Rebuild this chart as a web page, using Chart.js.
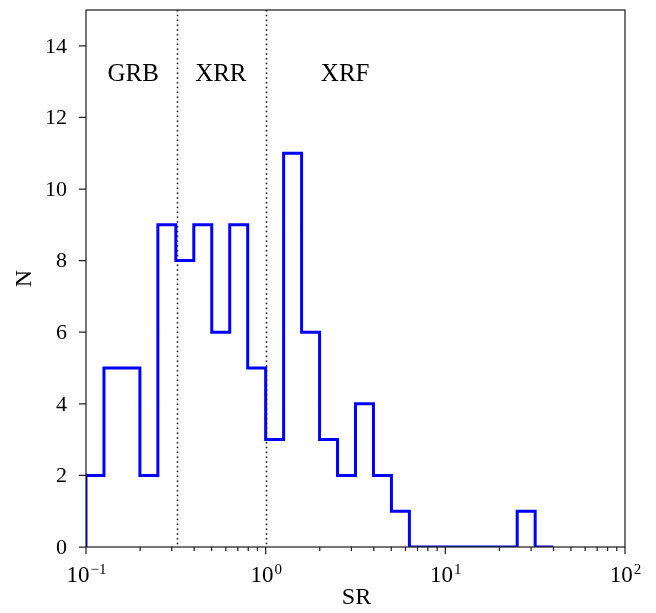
<!DOCTYPE html>
<html lang="en">
<head>
  <meta charset="UTF-8" />
  <title>SR distribution</title>
  <script src="https://cdn.jsdelivr.net/npm/chart.js"></script>
  <style>
    body {
      margin: 0;
      background: #ffffff;
    }
    canvas {
      display: block;
    }
  </style>
</head>
<body>
  <canvas id="srChart" width="656" height="613"></canvas>

  <script>
    // histogram counts, bins of 0.1 dex starting at SR = 0.1
    const binStartLog = -1.0;
    const binWidthLog = 0.1;
    const counts = [2, 5, 5, 2, 9, 8, 9, 6, 9, 5, 3, 11, 6, 3, 2, 4, 2, 1, 0, 0, 0, 0, 0, 0, 1, 0];

    // class boundaries in SR and the class names between them
    const boundaries = [0.32, 1.0];
    const classNames = ["GRB", "XRR", "XRF"];

    const xTickValues = [0.1, 1, 10, 100];
    const xTickExponents = ["\u22121", "0", "1", "2"];
    const yTickValues = [0, 2, 4, 6, 8, 10, 12, 14];

    const FONT = "'Liberation Serif', 'DejaVu Serif', serif";

    // step outline: left edge of each bin carries its count
    const stepPoints = [{ x: Math.pow(10, binStartLog), y: 0 }];
    counts.forEach((c, i) => {
      stepPoints.push({ x: Math.pow(10, binStartLog + binWidthLog * i), y: c });
    });
    stepPoints.push({ x: Math.pow(10, binStartLog + binWidthLog * counts.length), y: 0 });

    const axesDecor = {
      id: "axesDecor",
      beforeDatasetsDraw(chart) {
        const { ctx, chartArea: a, scales: { x, y } } = chart;
        ctx.save();
        // dotted class boundaries
        ctx.strokeStyle = "#000";
        ctx.lineWidth = 1.5;
        ctx.setLineDash([1.5, 3.3]);
        boundaries.forEach(b => {
          const px = Math.round(x.getPixelForValue(b)) + 0.5;
          ctx.beginPath();
          ctx.moveTo(px, a.top);
          ctx.lineTo(px, a.bottom);
          ctx.stroke();
        });
        ctx.setLineDash([]);

        // class names
        const labelX = [0.183, 0.563, 2.77];
        ctx.fillStyle = "#000";
        ctx.font = "25px " + FONT;
        ctx.textAlign = "center";
        ctx.textBaseline = "middle";
        classNames.forEach((name, i) => {
          ctx.fillText(name, x.getPixelForValue(labelX[i]), y.getPixelForValue(13.2));
        });
        ctx.restore();
      },
      afterDraw(chart) {
        const { ctx, chartArea: a, scales: { x, y } } = chart;
        ctx.save();
        ctx.strokeStyle = "#222";
        ctx.lineWidth = 1.25;
        ctx.strokeRect(a.left, a.top, a.right - a.left, a.bottom - a.top);

        // x ticks, major and minor, pointing out
        ctx.beginPath();
        for (let d = -1; d <= 2; d++) {
          const px = x.getPixelForValue(Math.pow(10, d));
          ctx.moveTo(px, a.bottom);
          ctx.lineTo(px, a.bottom + 7);
          if (d < 2) {
            for (let m = 2; m <= 9; m++) {
              const mx = x.getPixelForValue(m * Math.pow(10, d));
              ctx.moveTo(mx, a.bottom);
              ctx.lineTo(mx, a.bottom + 4);
            }
          }
        }
        yTickValues.forEach(v => {
          const py = y.getPixelForValue(v);
          ctx.moveTo(a.left, py);
          ctx.lineTo(a.left - 7, py);
        });
        ctx.stroke();

        // x tick labels 10^n
        ctx.fillStyle = "#000";
        ctx.textBaseline = "alphabetic";
        xTickValues.forEach((v, i) => {
          const px = x.getPixelForValue(v);
          ctx.font = "23px " + FONT;
          const wBase = ctx.measureText("10").width;
          ctx.font = "15px " + FONT;
          const wExp = ctx.measureText(xTickExponents[i]).width;
          const left = px - (wBase + wExp) / 2;
          ctx.textAlign = "left";
          ctx.font = "23px " + FONT;
          ctx.fillText("10", left, a.bottom + 35);
          ctx.font = "15px " + FONT;
          ctx.fillText(xTickExponents[i], left + wBase + 1, a.bottom + 27);
        });

        // y tick labels
        ctx.font = "22px " + FONT;
        ctx.textAlign = "right";
        ctx.textBaseline = "middle";
        yTickValues.forEach(v => {
          ctx.fillText(String(v), a.left - 19, y.getPixelForValue(v) + 1);
        });

        // axis titles
        ctx.font = "24px " + FONT;
        ctx.textAlign = "center";
        ctx.fillText("SR", (a.left + a.right) / 2 + 1, a.bottom + 51);
        ctx.translate(25, (a.top + a.bottom) / 2);
        ctx.rotate(-Math.PI / 2);
        ctx.fillText("N", 0, 0);
        ctx.restore();
      }
    };

    new Chart(document.getElementById("srChart"), {
      type: "line",
      data: {
        datasets: [{
          data: stepPoints,
          stepped: "before",
          borderColor: "#0000ff",
          borderWidth: 3,
          pointRadius: 0,
          fill: false,
          clip: 0
        }]
      },
      options: {
        responsive: false,
        animation: false,
        layout: { padding: { top: 10, right: 31, left: 0, bottom: 0 } },
        plugins: {
          legend: { display: false },
          tooltip: { enabled: false }
        },
        scales: {
          x: {
            type: "logarithmic",
            min: 0.1,
            max: 100,
            ticks: { display: false },
            grid: { display: false },
            border: { display: false },
            afterFit: s => { s.height = 66; }
          },
          y: {
            type: "linear",
            min: 0,
            max: 15,
            ticks: { display: false },
            grid: { display: false },
            border: { display: false },
            afterFit: s => { s.width = 86; }
          }
        }
      },
      plugins: [axesDecor]
    });
  </script>
</body>
</html>
